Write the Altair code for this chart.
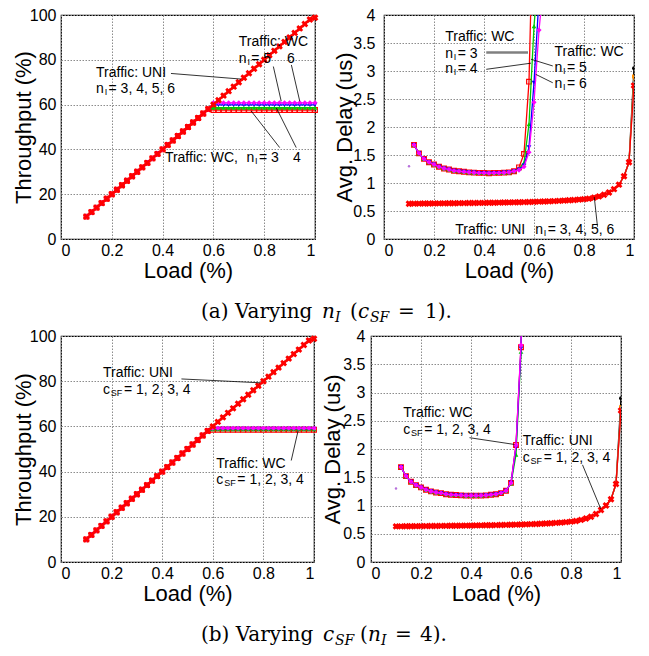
import altair as alt
import pandas as pd

SANS = "Liberation Sans"
SERIF = "DejaVu Serif"

# ---------------- data ----------------
LOAD = [0.10, 0.12, 0.14, 0.16, 0.18, 0.20, 0.22, 0.24, 0.26, 0.28,
        0.30, 0.32, 0.34, 0.36, 0.38, 0.40, 0.42, 0.44, 0.46, 0.48,
        0.50, 0.52, 0.54, 0.56, 0.58, 0.60, 0.62, 0.64, 0.66, 0.68,
        0.70, 0.72, 0.74, 0.76, 0.78, 0.80, 0.82, 0.84, 0.86, 0.88,
        0.90, 0.92, 0.94, 0.96, 0.98, 1.00]

THR_UNI = [10, 12, 14, 16, 18, 20, 22, 24, 26, 28,
           30, 32, 34, 36, 38, 40, 42, 44, 46, 48,
           50, 52, 54, 56, 58, 60, 62, 64, 66, 68,
           70, 72, 74, 76, 78, 80, 82, 84, 86, 88,
           90, 92, 94, 96, 98, 98.8]
THR_WC_RISE = [10, 12, 14, 16, 18, 20, 22, 24, 26, 28,
               30, 32, 34, 36, 38, 40, 42, 44, 46, 48,
               50, 52, 54, 56, 58]
N_FLAT = 21  # loads 0.60 .. 1.00
THR_A_WC_LEVEL = [57.6, 58.6, 59.9, 60.8]   # n_I = 3, 4, 5, 6
THR_B_WC_LEVEL = [58.5, 58.8, 59.0, 59.2]   # c_SF = 1, 2, 3, 4

WC_LOAD = [0.12, 0.14, 0.16, 0.18, 0.20, 0.22, 0.24, 0.26, 0.28, 0.30,
           0.32, 0.34, 0.36, 0.38, 0.40, 0.42, 0.44, 0.46, 0.48, 0.50,
           0.52, 0.54, 0.56, 0.58, 0.60, 0.62, 0.64]

DELAY_A_WC = [
    [1.68, 1.53, 1.43, 1.37, 1.33, 1.29, 1.26, 1.24, 1.22, 1.21, 1.20, 1.19, 1.185,
     1.18, 1.18, 1.175, 1.18, 1.18, 1.185, 1.19, 1.21, 1.28, 1.52, 2.81, 6.5],
    [1.68, 1.53, 1.43, 1.37, 1.33, 1.29, 1.26, 1.24, 1.22, 1.21, 1.20, 1.19, 1.185,
     1.18, 1.18, 1.175, 1.18, 1.18, 1.185, 1.19, 1.21, 1.25, 1.36, 2.05, 3.80, 4.9],
    [1.68, 1.53, 1.43, 1.37, 1.33, 1.29, 1.26, 1.24, 1.22, 1.21, 1.20, 1.19, 1.185,
     1.18, 1.18, 1.175, 1.18, 1.18, 1.185, 1.19, 1.21, 1.24, 1.31, 1.64, 2.79, 4.3],
    [1.68, 1.53, 1.43, 1.37, 1.33, 1.29, 1.26, 1.24, 1.22, 1.21, 1.20, 1.19, 1.185,
     1.18, 1.18, 1.175, 1.18, 1.18, 1.185, 1.19, 1.21, 1.23, 1.29, 1.55, 2.44, 3.73, 4.63],
]
DELAY_B_WC = [
    [1.68, 1.52, 1.42, 1.36, 1.32, 1.28, 1.25, 1.23, 1.22, 1.20, 1.19, 1.185, 1.18,
     1.175, 1.175, 1.175, 1.175, 1.18, 1.19, 1.20, 1.22, 1.26, 1.40, 2.07, 3.80, 8.0],
    [1.68, 1.52, 1.42, 1.36, 1.32, 1.28, 1.25, 1.23, 1.22, 1.20, 1.19, 1.185, 1.18,
     1.175, 1.175, 1.175, 1.175, 1.18, 1.19, 1.20, 1.22, 1.26, 1.39, 1.90, 3.72, 8.0],
    [1.68, 1.52, 1.42, 1.36, 1.32, 1.28, 1.25, 1.23, 1.22, 1.20, 1.19, 1.185, 1.18,
     1.175, 1.175, 1.175, 1.175, 1.18, 1.19, 1.20, 1.22, 1.26, 1.40, 2.03, 3.78, 8.0],
    [1.68, 1.52, 1.42, 1.36, 1.32, 1.28, 1.25, 1.23, 1.22, 1.20, 1.19, 1.185, 1.18,
     1.175, 1.175, 1.175, 1.175, 1.18, 1.19, 1.20, 1.22, 1.26, 1.40, 2.07, 3.84, 8.0],
]

DELAY_A_UNI = [0.630, 0.631, 0.632, 0.633, 0.634, 0.635, 0.636, 0.637, 0.638, 0.639,
               0.640, 0.641, 0.642, 0.643, 0.644, 0.645, 0.647, 0.648, 0.650, 0.651,
               0.653, 0.655, 0.657, 0.659, 0.661, 0.664, 0.667, 0.670, 0.673, 0.677,
               0.681, 0.686, 0.691, 0.697, 0.704, 0.711, 0.720, 0.740, 0.760, 0.790,
               0.830, 0.890, 0.970, 1.120, 1.370, 2.740]
DELAY_A_UNI_END = [3.05, 2.90, 2.80, 2.74]   # value at load 1.0 per series
DELAY_B_UNI = [0.630, 0.631, 0.632, 0.633, 0.634, 0.635, 0.636, 0.637, 0.638, 0.639,
               0.640, 0.641, 0.642, 0.643, 0.644, 0.645, 0.647, 0.648, 0.650, 0.651,
               0.653, 0.655, 0.657, 0.659, 0.661, 0.664, 0.667, 0.670, 0.673, 0.677,
               0.681, 0.686, 0.692, 0.698, 0.706, 0.715, 0.725, 0.745, 0.770, 0.800,
               0.850, 0.920, 1.000, 1.110, 1.380, 2.680]
DELAY_B_UNI_END = [2.90, 2.74, 2.72, 2.68]
STRAY = [0.10, 1.30]

# (colour, shape, size, filled)
UNI_STYLE = [("#000000", "circle", 16, True), ("#ff8c00", "square", 16, True),
             ("#8c8c8c", "diamond", 16, True), ("#ff0000", "cross", 48, True)]
WC_STYLE = [("#ff0000", "square", 22, False), ("#00cc00", "triangle-up", 22, True),
            ("#0000ff", "triangle-down", 22, True), ("#ff00ff", "diamond", 26, True)]

X_TICKS = [0, 0.2, 0.4, 0.6, 0.8, 1]
THR_TICKS = [0, 20, 40, 60, 80, 100]
DELAY_TICKS = [0, 0.5, 1, 1.5, 2, 2.5, 3, 3.5, 4]

ANN_A1 = [(0.138, 74.3, "Traffic: UNI", "plain"), (0.138, 66.8, " = 3, 4, 5, 6", "nI"),
          (0.700, 88.0, "Traffic: WC", "plain"), (0.700, 80.5, " = 5", "nI"), (0.890, 80.5, "6", "plain"),
          (0.409, 36.3, "Traffic: WC,", "plain"), (0.730, 36.3, " = 3", "nI"), (0.913, 36.3, "4", "plain")]
RULE_A1 = [(0.433, 73.9, 0.709, 71.4), (0.836, 77.0, 0.867, 61.5), (0.907, 77.7, 0.940, 61.5),
           (0.861, 40.8, 0.749, 57.1), (0.926, 40.8, 0.848, 58.5)]
ANN_A2 = [(0.245, 3.60, "Traffic: WC", "plain"), (0.245, 3.31, " = 3", "nI"), (0.245, 3.03, " = 4", "nI"),
          (0.682, 3.34, "Traffic: WC", "plain"), (0.682, 3.06, " = 5", "nI"), (0.682, 2.77, " = 6", "nI"),
          (0.285, 0.16, "Traffic: UNI", "plain"), (0.605, 0.16, " = 3, 4, 5, 6", "nI")]
RULE_A2 = [(0.409, 3.03, 0.588, 3.14), (0.675, 3.09, 0.588, 3.21), (0.675, 2.79, 0.607, 2.94),
           (0.854, 0.22, 0.841, 0.75)]
RULE_A2_GRAY = [(0.409, 3.33, 0.576, 3.33)]
ANN_B1 = [(0.166, 83.6, "Traffic: UNI", "plain"), (0.166, 76.3, " = 1, 2, 3, 4", "cSF"),
          (0.614, 43.4, "Traffic: WC", "plain"), (0.614, 36.1, " = 1, 2, 3, 4", "cSF")]
RULE_B1 = [(0.476, 81.0, 0.786, 79.3), (0.910, 44.9, 0.937, 58.0)]
ANN_B2 = [(0.129, 2.63, "Traffic: WC", "plain"), (0.129, 2.34, " = 1, 2, 3, 4", "cSF"),
          (0.607, 2.14, "Traffic: UNI", "plain"), (0.607, 1.84, " = 1, 2, 3, 4", "cSF")]
RULE_B2 = [(0.394, 2.20, 0.574, 2.08), (0.846, 1.72, 0.919, 0.94)]


def series_layers(xs, ys, style, xe, ye, clip):
    color, shape, size, filled = style
    df = pd.DataFrame({"load": xs, "val": ys})
    line = alt.Chart(df).mark_line(color=color, strokeWidth=1.3, clip=clip).encode(x=xe, y=ye)
    pt = alt.Chart(df).mark_point(shape=shape, filled=filled, size=size, color=color, opacity=1,
                                  strokeWidth=1.2, angle=45 if shape == "cross" else 0,
                                  clip=clip).encode(x=xe, y=ye)
    return [line, pt]


def text_layers(anns, xe, ye):
    layers = []
    def add(rows, dx, dy, size):
        if rows:
            df = pd.DataFrame(rows, columns=["load", "val", "t"])
            layers.append(alt.Chart(df).mark_text(align="left", baseline="middle", font=SANS,
                                                  fontSize=size, color="black", dx=dx, dy=dy)
                          .encode(x=xe, y=ye, text="t:N"))
    plain = [(a[0], a[1], a[2]) for a in anns if a[3] == "plain"]
    ni = [a for a in anns if a[3] == "nI"]
    cs = [a for a in anns if a[3] == "cSF"]
    add(plain, 0, 0, 14)
    add([(a[0], a[1], "n") for a in ni], 0, 0, 14)
    add([(a[0], a[1], "I") for a in ni], 8.6, 3, 9)
    add([(a[0], a[1], a[2]) for a in ni], 12.5, 0, 14)
    add([(a[0], a[1], "c") for a in cs], 0, 0, 14)
    add([(a[0], a[1], "SF") for a in cs], 7.8, 3, 9)
    add([(a[0], a[1], a[2]) for a in cs], 21.0, 0, 14)
    return layers


def rule_layer(rules, xe, ye, color, width):
    df = pd.DataFrame(rules, columns=["load", "val", "load2", "val2"])
    return alt.Chart(df).mark_rule(color=color, strokeWidth=width).encode(
        x=xe, y=ye, x2="load2:Q", y2="val2:Q")


def panel(kind, wc_x, wc_sets, uni_sets, anns, rules, ytitle, ydom, yticks, yfmt, labpad, titlex,
          w, h, gray_rules=None, stray=False):
    xaxis = alt.Axis(values=X_TICKS, format="~g", title="Load (%)", labelPadding=3,
                     titleY=21, titleBaseline="top")
    yaxis = alt.Axis(values=yticks, format=yfmt, title=ytitle, labelPadding=labpad,
                     titleX=titlex, titleBaseline="bottom")
    xe = alt.X("load:Q", scale=alt.Scale(domain=[0, 1], nice=False, zero=False), axis=xaxis)
    ye = alt.Y("val:Q", scale=alt.Scale(domain=ydom, nice=False), axis=yaxis)
    clip = kind == "delay"
    layers = []
    for (xs, ys), st in zip(uni_sets[:3], UNI_STYLE[:3]):
        layers += series_layers(xs, ys, st, xe, ye, clip)
    for ys, st in zip(wc_sets, WC_STYLE):
        layers += series_layers(wc_x[:len(ys)], ys, st, xe, ye, clip)
    xs, ys = uni_sets[3]
    layers += series_layers(xs, ys, UNI_STYLE[3], xe, ye, clip)
    if stray:
        layers.append(alt.Chart(pd.DataFrame({"load": [STRAY[0]], "val": [STRAY[1]]}))
                      .mark_point(filled=True, size=6, color="#9933cc").encode(x=xe, y=ye))
    if gray_rules:
        layers.append(rule_layer(gray_rules, xe, ye, "#808080", 2.5))
    layers.append(rule_layer(rules, xe, ye, "black", 0.8))
    layers += text_layers(anns, xe, ye)
    return alt.layer(*layers).properties(width=w, height=h)


W1, W3, W2, H1, H2 = 254, 253, 250, 224, 226
thr_uni = [(LOAD, THR_UNI)] * 4
p1 = panel("thr", LOAD, [THR_WC_RISE + [lv] * N_FLAT for lv in THR_A_WC_LEVEL], thr_uni,
           ANN_A1, RULE_A1, "Throughput (%)", [0, 100], THR_TICKS, "d", 5, -26, W1, H1)
p3 = panel("thr", LOAD, [THR_WC_RISE + [lv] * N_FLAT for lv in THR_B_WC_LEVEL], thr_uni,
           ANN_B1, RULE_B1, "Throughput (%)", [0, 100], THR_TICKS, "d", 5, -26, W3, H2)
uni_a = [(LOAD, DELAY_A_UNI[:-1] + [e]) for e in DELAY_A_UNI_END]
uni_b = [(LOAD, DELAY_B_UNI[:-1] + [e]) for e in DELAY_B_UNI_END]
p2 = panel("delay", WC_LOAD, DELAY_A_WC, uni_a, ANN_A2, RULE_A2, "Avg. Delay (us)", [0, 4],
           DELAY_TICKS, "~g", 9, -28, W2, H1, gray_rules=RULE_A2_GRAY, stray=True)
p4 = panel("delay", WC_LOAD, DELAY_B_WC, uni_b, ANN_B2, RULE_B2, "Avg. Delay (us)", [0, 4],
           DELAY_TICKS, "~g", 6, -27, W2, H2, stray=True)


def caption(segs, h, base):
    layers = []
    for px, txt, size, style, dy in segs:
        layers.append(alt.Chart(pd.DataFrame({"t": [txt]})).mark_text(
            align="left", baseline="alphabetic", font=SERIF, fontSize=size, fontStyle=style,
            color="black").encode(x=alt.value(px), y=alt.value(base + dy), text="t:N"))
    return alt.layer(*layers).properties(width=500, height=h,
                                         view=alt.ViewBackground(stroke="transparent"))


OX = 63  # captions are positioned relative to the left panels' plot edge
CAP_A = [(203 - OX, "(a) Varying", 20, "normal", 0), (324 - OX, "n", 20, "italic", 0),
         (337 - OX, "I", 14, "italic", 4), (352 - OX, "(", 20, "normal", 0),
         (360 - OX, "c", 20, "italic", 0), (372 - OX, "SF", 14, "italic", 4),
         (400 - OX, "=", 20, "normal", 0), (427 - OX, "1).", 20, "normal", 0)]
CAP_B = [(203 - OX, "(b) Varying", 20, "normal", 0), (325 - OX, "c", 20, "italic", 0),
         (337 - OX, "SF", 14, "italic", 4), (362 - OX, "(", 20, "normal", 0),
         (370 - OX, "n", 20, "italic", 0), (383 - OX, "I", 14, "italic", 4),
         (397 - OX, "=", 20, "normal", 0), (422 - OX, "4).", 20, "normal", 0)]

row1 = alt.hconcat(p1, p2, spacing=11)
row2 = alt.hconcat(p3, p4, spacing=0)
chart = alt.vconcat(row1, caption(CAP_A, 43, 35), row2, caption(CAP_B, 38, 35), spacing=0).properties(
    padding={"left": 3, "top": -2, "right": 0, "bottom": 0}
).configure_view(stroke="black", strokeWidth=1.2).configure_axis(
    labelFont=SANS, labelFontSize=16, labelColor="black", titleFont=SANS, titleFontSize=22,
    titleFontWeight="normal", titleColor="black", domain=False, ticks=False, grid=True,
    gridColor="#8c8c8c", gridDash=[1.5, 1.5], gridWidth=1)

chart.save("out.html", embed_options={"renderer": "svg", "actions": False})
